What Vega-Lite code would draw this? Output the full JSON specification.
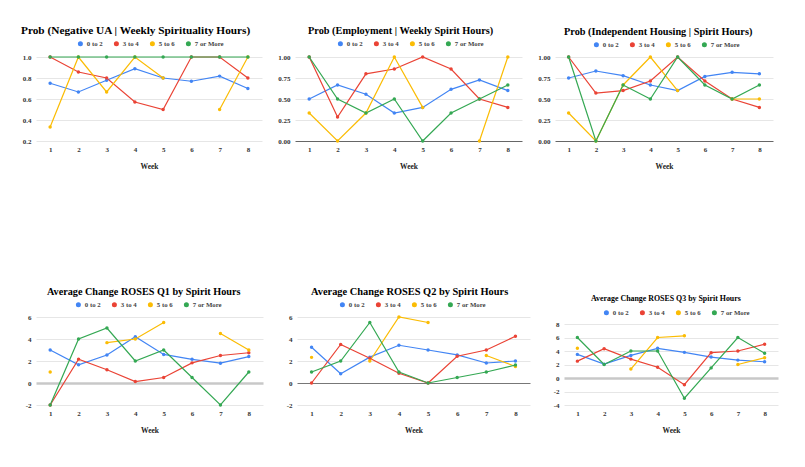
{
  "$schema": "https://vega.github.io/schema/vega-lite/v6.json",
  "padding": {"left": 21, "top": 24, "right": 5, "bottom": 5},
  "background": "white",
  "bounds": "flush",
  "spacing": 260,
  "datasets": {
    "d": [
      {"panel":"UA","week":1,"group":"0 to 2","value":0.75},{"panel":"UA","week":2,"group":"0 to 2","value":0.667},{"panel":"UA","week":3,"group":"0 to 2","value":0.778},{"panel":"UA","week":4,"group":"0 to 2","value":0.889},{"panel":"UA","week":5,"group":"0 to 2","value":0.8},{"panel":"UA","week":6,"group":"0 to 2","value":0.769},{"panel":"UA","week":7,"group":"0 to 2","value":0.818},{"panel":"UA","week":8,"group":"0 to 2","value":0.7},
      {"panel":"UA","week":1,"group":"3 to 4","value":1},{"panel":"UA","week":2,"group":"3 to 4","value":0.857},{"panel":"UA","week":3,"group":"3 to 4","value":0.8},{"panel":"UA","week":4,"group":"3 to 4","value":0.571},{"panel":"UA","week":5,"group":"3 to 4","value":0.5},{"panel":"UA","week":6,"group":"3 to 4","value":1},{"panel":"UA","week":7,"group":"3 to 4","value":1},{"panel":"UA","week":8,"group":"3 to 4","value":0.8},
      {"panel":"UA","week":1,"group":"5 to 6","value":0.333},{"panel":"UA","week":2,"group":"5 to 6","value":1},{"panel":"UA","week":3,"group":"5 to 6","value":0.667},{"panel":"UA","week":4,"group":"5 to 6","value":1},{"panel":"UA","week":5,"group":"5 to 6","value":0.8},{"panel":"UA","week":6,"group":"5 to 6","value":null},{"panel":"UA","week":7,"group":"5 to 6","value":0.5},{"panel":"UA","week":8,"group":"5 to 6","value":1},
      {"panel":"UA","week":1,"group":"7 or More","value":1},{"panel":"UA","week":2,"group":"7 or More","value":1},{"panel":"UA","week":3,"group":"7 or More","value":1},{"panel":"UA","week":4,"group":"7 or More","value":1},{"panel":"UA","week":5,"group":"7 or More","value":1},{"panel":"UA","week":6,"group":"7 or More","value":1},{"panel":"UA","week":7,"group":"7 or More","value":1},{"panel":"UA","week":8,"group":"7 or More","value":1},

      {"panel":"EMP","week":1,"group":"0 to 2","value":0.5},{"panel":"EMP","week":2,"group":"0 to 2","value":0.667},{"panel":"EMP","week":3,"group":"0 to 2","value":0.556},{"panel":"EMP","week":4,"group":"0 to 2","value":0.333},{"panel":"EMP","week":5,"group":"0 to 2","value":0.4},{"panel":"EMP","week":6,"group":"0 to 2","value":0.615},{"panel":"EMP","week":7,"group":"0 to 2","value":0.727},{"panel":"EMP","week":8,"group":"0 to 2","value":0.6},
      {"panel":"EMP","week":1,"group":"3 to 4","value":1},{"panel":"EMP","week":2,"group":"3 to 4","value":0.286},{"panel":"EMP","week":3,"group":"3 to 4","value":0.8},{"panel":"EMP","week":4,"group":"3 to 4","value":0.857},{"panel":"EMP","week":5,"group":"3 to 4","value":1},{"panel":"EMP","week":6,"group":"3 to 4","value":0.857},{"panel":"EMP","week":7,"group":"3 to 4","value":0.5},{"panel":"EMP","week":8,"group":"3 to 4","value":0.4},
      {"panel":"EMP","week":1,"group":"5 to 6","value":0.333},{"panel":"EMP","week":2,"group":"5 to 6","value":0},{"panel":"EMP","week":3,"group":"5 to 6","value":0.333},{"panel":"EMP","week":4,"group":"5 to 6","value":1},{"panel":"EMP","week":5,"group":"5 to 6","value":0.4},{"panel":"EMP","week":6,"group":"5 to 6","value":null},{"panel":"EMP","week":7,"group":"5 to 6","value":0},{"panel":"EMP","week":8,"group":"5 to 6","value":1},
      {"panel":"EMP","week":1,"group":"7 or More","value":1},{"panel":"EMP","week":2,"group":"7 or More","value":0.5},{"panel":"EMP","week":3,"group":"7 or More","value":0.333},{"panel":"EMP","week":4,"group":"7 or More","value":0.5},{"panel":"EMP","week":5,"group":"7 or More","value":0},{"panel":"EMP","week":6,"group":"7 or More","value":0.333},{"panel":"EMP","week":7,"group":"7 or More","value":0.5},{"panel":"EMP","week":8,"group":"7 or More","value":0.667},

      {"panel":"HOUS","week":1,"group":"0 to 2","value":0.75},{"panel":"HOUS","week":2,"group":"0 to 2","value":0.833},{"panel":"HOUS","week":3,"group":"0 to 2","value":0.778},{"panel":"HOUS","week":4,"group":"0 to 2","value":0.667},{"panel":"HOUS","week":5,"group":"0 to 2","value":0.6},{"panel":"HOUS","week":6,"group":"0 to 2","value":0.769},{"panel":"HOUS","week":7,"group":"0 to 2","value":0.818},{"panel":"HOUS","week":8,"group":"0 to 2","value":0.8},
      {"panel":"HOUS","week":1,"group":"3 to 4","value":1},{"panel":"HOUS","week":2,"group":"3 to 4","value":0.571},{"panel":"HOUS","week":3,"group":"3 to 4","value":0.6},{"panel":"HOUS","week":4,"group":"3 to 4","value":0.714},{"panel":"HOUS","week":5,"group":"3 to 4","value":1},{"panel":"HOUS","week":6,"group":"3 to 4","value":0.714},{"panel":"HOUS","week":7,"group":"3 to 4","value":0.5},{"panel":"HOUS","week":8,"group":"3 to 4","value":0.4},
      {"panel":"HOUS","week":1,"group":"5 to 6","value":0.333},{"panel":"HOUS","week":2,"group":"5 to 6","value":0},{"panel":"HOUS","week":3,"group":"5 to 6","value":0.667},{"panel":"HOUS","week":4,"group":"5 to 6","value":1},{"panel":"HOUS","week":5,"group":"5 to 6","value":0.6},{"panel":"HOUS","week":6,"group":"5 to 6","value":null},{"panel":"HOUS","week":7,"group":"5 to 6","value":0.5},{"panel":"HOUS","week":8,"group":"5 to 6","value":0.5},
      {"panel":"HOUS","week":1,"group":"7 or More","value":1},{"panel":"HOUS","week":2,"group":"7 or More","value":0},{"panel":"HOUS","week":3,"group":"7 or More","value":0.667},{"panel":"HOUS","week":4,"group":"7 or More","value":0.5},{"panel":"HOUS","week":5,"group":"7 or More","value":1},{"panel":"HOUS","week":6,"group":"7 or More","value":0.667},{"panel":"HOUS","week":7,"group":"7 or More","value":0.5},{"panel":"HOUS","week":8,"group":"7 or More","value":0.667},

      {"panel":"Q1","week":1,"group":"0 to 2","value":3},{"panel":"Q1","week":2,"group":"0 to 2","value":1.65},{"panel":"Q1","week":3,"group":"0 to 2","value":2.55},{"panel":"Q1","week":4,"group":"0 to 2","value":4.2},{"panel":"Q1","week":5,"group":"0 to 2","value":2.6},{"panel":"Q1","week":6,"group":"0 to 2","value":2.15},{"panel":"Q1","week":7,"group":"0 to 2","value":1.8},{"panel":"Q1","week":8,"group":"0 to 2","value":2.4},
      {"panel":"Q1","week":1,"group":"3 to 4","value":-2},{"panel":"Q1","week":2,"group":"3 to 4","value":2.17},{"panel":"Q1","week":3,"group":"3 to 4","value":1.2},{"panel":"Q1","week":4,"group":"3 to 4","value":0.13},{"panel":"Q1","week":5,"group":"3 to 4","value":0.5},{"panel":"Q1","week":6,"group":"3 to 4","value":1.83},{"panel":"Q1","week":7,"group":"3 to 4","value":2.5},{"panel":"Q1","week":8,"group":"3 to 4","value":2.75},
      {"panel":"Q1","week":1,"group":"5 to 6","value":1},{"panel":"Q1","week":2,"group":"5 to 6","value":null},{"panel":"Q1","week":3,"group":"5 to 6","value":3.67},{"panel":"Q1","week":4,"group":"5 to 6","value":4},{"panel":"Q1","week":5,"group":"5 to 6","value":5.5},{"panel":"Q1","week":6,"group":"5 to 6","value":null},{"panel":"Q1","week":7,"group":"5 to 6","value":4.5},{"panel":"Q1","week":8,"group":"5 to 6","value":3},
      {"panel":"Q1","week":1,"group":"7 or More","value":-2},{"panel":"Q1","week":2,"group":"7 or More","value":4},{"panel":"Q1","week":3,"group":"7 or More","value":5},{"panel":"Q1","week":4,"group":"7 or More","value":2},{"panel":"Q1","week":5,"group":"7 or More","value":3},{"panel":"Q1","week":6,"group":"7 or More","value":0.5},{"panel":"Q1","week":7,"group":"7 or More","value":-2},{"panel":"Q1","week":8,"group":"7 or More","value":1},

      {"panel":"Q2","week":1,"group":"0 to 2","value":3.25},{"panel":"Q2","week":2,"group":"0 to 2","value":0.85},{"panel":"Q2","week":3,"group":"0 to 2","value":2.35},{"panel":"Q2","week":4,"group":"0 to 2","value":3.43},{"panel":"Q2","week":5,"group":"0 to 2","value":3},{"panel":"Q2","week":6,"group":"0 to 2","value":2.55},{"panel":"Q2","week":7,"group":"0 to 2","value":1.82},{"panel":"Q2","week":8,"group":"0 to 2","value":2},
      {"panel":"Q2","week":1,"group":"3 to 4","value":0},{"panel":"Q2","week":2,"group":"3 to 4","value":3.5},{"panel":"Q2","week":3,"group":"3 to 4","value":2.25},{"panel":"Q2","week":4,"group":"3 to 4","value":0.88},{"panel":"Q2","week":5,"group":"3 to 4","value":0},{"panel":"Q2","week":6,"group":"3 to 4","value":2.43},{"panel":"Q2","week":7,"group":"3 to 4","value":3},{"panel":"Q2","week":8,"group":"3 to 4","value":4.25},
      {"panel":"Q2","week":1,"group":"5 to 6","value":2.33},{"panel":"Q2","week":2,"group":"5 to 6","value":null},{"panel":"Q2","week":3,"group":"5 to 6","value":2},{"panel":"Q2","week":4,"group":"5 to 6","value":6},{"panel":"Q2","week":5,"group":"5 to 6","value":5.5},{"panel":"Q2","week":6,"group":"5 to 6","value":null},{"panel":"Q2","week":7,"group":"5 to 6","value":2.5},{"panel":"Q2","week":8,"group":"5 to 6","value":1.5},
      {"panel":"Q2","week":1,"group":"7 or More","value":1},{"panel":"Q2","week":2,"group":"7 or More","value":2},{"panel":"Q2","week":3,"group":"7 or More","value":5.5},{"panel":"Q2","week":4,"group":"7 or More","value":1},{"panel":"Q2","week":5,"group":"7 or More","value":0},{"panel":"Q2","week":6,"group":"7 or More","value":0.5},{"panel":"Q2","week":7,"group":"7 or More","value":1},{"panel":"Q2","week":8,"group":"7 or More","value":1.64},

      {"panel":"Q3","week":1,"group":"0 to 2","value":3.5},{"panel":"Q3","week":2,"group":"0 to 2","value":2.05},{"panel":"Q3","week":3,"group":"0 to 2","value":3.35},{"panel":"Q3","week":4,"group":"0 to 2","value":4.4},{"panel":"Q3","week":5,"group":"0 to 2","value":3.8},{"panel":"Q3","week":6,"group":"0 to 2","value":3.1},{"panel":"Q3","week":7,"group":"0 to 2","value":2.65},{"panel":"Q3","week":8,"group":"0 to 2","value":2.4},
      {"panel":"Q3","week":1,"group":"3 to 4","value":2.5},{"panel":"Q3","week":2,"group":"3 to 4","value":4.35},{"panel":"Q3","week":3,"group":"3 to 4","value":2.8},{"panel":"Q3","week":4,"group":"3 to 4","value":1.6},{"panel":"Q3","week":5,"group":"3 to 4","value":-1},{"panel":"Q3","week":6,"group":"3 to 4","value":3.75},{"panel":"Q3","week":7,"group":"3 to 4","value":4},{"panel":"Q3","week":8,"group":"3 to 4","value":5},
      {"panel":"Q3","week":1,"group":"5 to 6","value":4.4},{"panel":"Q3","week":2,"group":"5 to 6","value":null},{"panel":"Q3","week":3,"group":"5 to 6","value":1.33},{"panel":"Q3","week":4,"group":"5 to 6","value":6},{"panel":"Q3","week":5,"group":"5 to 6","value":6.25},{"panel":"Q3","week":6,"group":"5 to 6","value":null},{"panel":"Q3","week":7,"group":"5 to 6","value":2},{"panel":"Q3","week":8,"group":"5 to 6","value":3},
      {"panel":"Q3","week":1,"group":"7 or More","value":6},{"panel":"Q3","week":2,"group":"7 or More","value":2},{"panel":"Q3","week":3,"group":"7 or More","value":4},{"panel":"Q3","week":4,"group":"7 or More","value":4},{"panel":"Q3","week":5,"group":"7 or More","value":-3},{"panel":"Q3","week":6,"group":"7 or More","value":1.5},{"panel":"Q3","week":7,"group":"7 or More","value":6},{"panel":"Q3","week":8,"group":"7 or More","value":3.67}
    ]
  },
  "vconcat": [
    {
      "bounds": "flush",
      "spacing": 33,
      "resolve": {"scale": {"color": "independent", "x": "independent", "y": "independent"}, "legend": {"color": "independent"}},
      "hconcat": [
        {
          "width": 226, "height": 84,
          "data": {"name": "d"},
          "transform": [{"filter": "datum.panel == 'UA'"}],
          "title": {"text": "Prob (Negative UA | Weekly Spirituality Hours)", "fontSize": 11.3, "dx": -15},
          "mark": {"type": "line", "strokeWidth": 1.2, "point": {"filled": true, "size": 12}},
          "encoding": {
            "x": {"field": "week", "type": "ordinal", "title": "Week"},
            "y": {"field": "value", "type": "quantitative", "scale": {"domain": [0.2, 1], "nice": false, "zero": false}, "axis": {"values": [0.2, 0.4, 0.6, 0.8, 1.0], "format": ".1f"}},
            "color": {"field": "group", "type": "nominal", "legend": {"symbolType": "circle", "orient": "none", "legendX": 41, "legendY": -17}}
          }
        },
        {
          "width": 227, "height": 84,
          "data": {"name": "d"},
          "transform": [{"filter": "datum.panel == 'EMP'"}],
          "title": {"text": "Prob (Employment | Weekly Spirit Hours)", "fontSize": 10.3, "dx": 13},
          "mark": {"type": "line", "strokeWidth": 1.2, "point": {"filled": true, "size": 12}},
          "encoding": {
            "x": {"field": "week", "type": "ordinal", "title": "Week"},
            "y": {"field": "value", "type": "quantitative", "scale": {"domain": [0, 1], "nice": false}, "axis": {"values": [0, 0.25, 0.5, 0.75, 1.0], "format": ".2f", "gridColor": {"condition": {"test": "datum.value === 0", "value": "#666666"}, "value": "#e6e6e6"}}},
            "color": {"field": "group", "type": "nominal", "legend": {"symbolType": "circle", "orient": "none", "legendX": 42, "legendY": -17}}
          }
        },
        {
          "width": 218, "height": 84,
          "data": {"name": "d"},
          "transform": [{"filter": "datum.panel == 'HOUS'"}],
          "title": {"text": "Prob (Independent Housing | Spirit Hours)", "fontSize": 10.3, "dx": 9},
          "mark": {"type": "line", "strokeWidth": 1.2, "point": {"filled": true, "size": 12}},
          "encoding": {
            "x": {"field": "week", "type": "ordinal", "title": "Week"},
            "y": {"field": "value", "type": "quantitative", "scale": {"domain": [0, 1], "nice": false}, "axis": {"values": [0, 0.25, 0.5, 0.75, 1.0], "format": ".2f", "gridColor": {"condition": {"test": "datum.value === 0", "value": "#666666"}, "value": "#e6e6e6"}}},
            "color": {"field": "group", "type": "nominal", "legend": {"symbolType": "circle", "orient": "none", "legendX": 38, "legendY": -16}}
          }
        }
      ]
    },
    {
      "bounds": "flush",
      "spacing": 34,
      "resolve": {"scale": {"color": "independent", "x": "independent", "y": "independent"}, "legend": {"color": "independent"}},
      "hconcat": [
        {
          "width": 227, "height": 88,
          "data": {"name": "d"},
          "transform": [{"filter": "datum.panel == 'Q1'"}],
          "title": {"text": "Average Change ROSES Q1 by Spirit Hours", "fontSize": 10.2, "dx": 11},
          "mark": {"type": "line", "strokeWidth": 1.2, "point": {"filled": true, "size": 12}},
          "encoding": {
            "x": {"field": "week", "type": "ordinal", "title": "Week"},
            "y": {"field": "value", "type": "quantitative", "scale": {"domain": [-2, 6], "nice": false}, "axis": {"values": [-2, 0, 2, 4, 6], "labelExpr": "toString(datum.value)", "gridColor": {"condition": {"test": "datum.value === 0", "value": "#c8c8c8"}, "value": "#e6e6e6"}, "gridWidth": {"condition": {"test": "datum.value === 0", "value": 2.5}, "value": 1}}},
            "color": {"field": "group", "type": "nominal", "legend": {"symbolType": "circle", "orient": "none", "legendX": 39, "legendY": -16}}
          }
        },
        {
          "width": 233, "height": 88,
          "data": {"name": "d"},
          "transform": [{"filter": "datum.panel == 'Q2'"}],
          "title": {"text": "Average Change ROSES Q2 by Spirit Hours", "fontSize": 10.4, "dx": 14},
          "mark": {"type": "line", "strokeWidth": 1.2, "point": {"filled": true, "size": 12}},
          "encoding": {
            "x": {"field": "week", "type": "ordinal", "title": "Week"},
            "y": {"field": "value", "type": "quantitative", "scale": {"domain": [-2, 6], "nice": false}, "axis": {"values": [-2, 0, 2, 4, 6], "labelExpr": "toString(datum.value)", "gridColor": {"condition": {"test": "datum.value === 0", "value": "#777777"}, "value": "#e6e6e6"}}},
            "color": {"field": "group", "type": "nominal", "legend": {"symbolType": "circle", "orient": "none", "legendX": 42, "legendY": -16}}
          }
        },
        {
          "width": 214, "height": 88,
          "data": {"name": "d"},
          "transform": [{"filter": "datum.panel == 'Q3'"}],
          "title": {"text": "Average Change ROSES Q3 by Spirit Hours", "fontSize": 7.9, "dx": 27, "offset": 6},
          "mark": {"type": "line", "strokeWidth": 1.2, "point": {"filled": true, "size": 12}},
          "encoding": {
            "x": {"field": "week", "type": "ordinal", "title": "Week"},
            "y": {"field": "value", "type": "quantitative", "scale": {"domain": [-4, 9.04], "nice": false}, "axis": {"values": [-4, -2, 0, 2, 4, 6, 8], "labelExpr": "toString(datum.value)", "gridColor": {"condition": {"test": "datum.value === 0", "value": "#c8c8c8"}, "value": "#e6e6e6"}, "gridWidth": {"condition": {"test": "datum.value === 0", "value": 2.5}, "value": 1}}},
            "color": {"field": "group", "type": "nominal", "legend": {"symbolType": "circle", "orient": "none", "legendX": 39, "legendY": -8}}
          }
        }
      ]
    }
  ],
  "resolve": {"scale": {"y": "independent", "x": "independent", "color": "independent"}, "legend": {"color": "independent"}, "axis": {"x": "independent", "y": "independent"}},
  "config": {
    "view": {"stroke": null},
    "font": "Liberation Serif",
    "title": {"font": "Liberation Serif", "fontWeight": "bold", "color": "#000000", "anchor": "start", "frame": "group", "offset": 4},
    "range": {"category": ["#4285F4", "#EA4335", "#FBBC04", "#34A853"]},
    "axis": {"labelFont": "Liberation Serif", "labelFontSize": 7, "labelFontWeight": "bold", "labelColor": "#333333", "labelOverlap": false, "ticks": false, "domain": false, "titleFont": "Liberation Serif", "titleFontSize": 7.5, "titleFontWeight": "bold", "titleColor": "#222222"},
    "axisY": {"title": null, "gridColor": "#e6e6e6", "labelPadding": 5},
    "axisX": {"grid": false, "labelAngle": 0, "labelPadding": 4, "titlePadding": 10},
    "legend": {"direction": "horizontal", "title": null, "symbolType": "circle", "symbolSize": 5, "symbolStrokeWidth": 2.8, "labelFont": "Liberation Serif", "labelFontSize": 6.8, "labelFontWeight": "bold", "labelColor": "#444444", "columnPadding": 6, "labelOffset": 3}
  }
}
